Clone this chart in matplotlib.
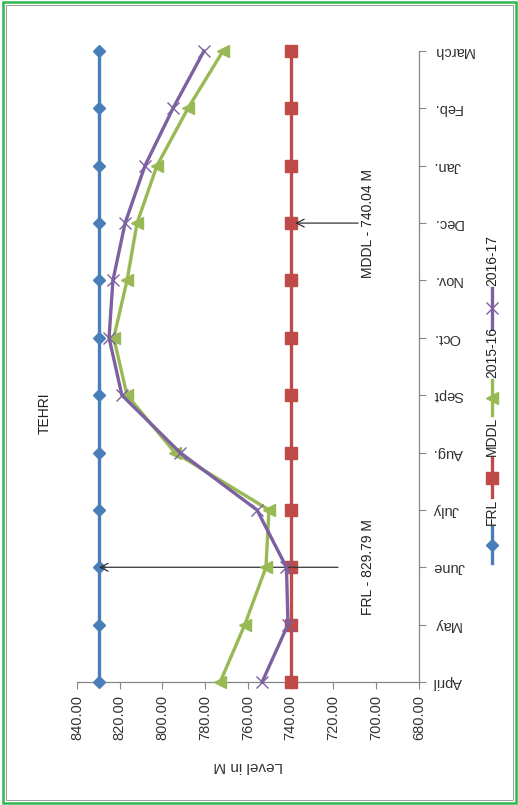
import matplotlib
matplotlib.use("Agg")
import matplotlib.pyplot as plt
from matplotlib.patches import Rectangle
from matplotlib.lines import Line2D
from matplotlib import font_manager

months = ["April", "May", "June", "July", "Aug.", "Sept", "Oct.", "Nov.", "Dec.", "Jan.", "Feb.", "March"]
frl = [829.79] * 12
mddl = [740.04] * 12
y2015_16 = [773.0, 761.5, 751.6, 750.2, 794.2, 816.6, 822.8, 816.6, 811.9, 802.6, 788.1, 771.7]
y2016_17 = [753.4, 741.3, 742.0, 755.8, 791.8, 819.0, 825.0, 823.2, 817.5, 808.2, 795.1, 780.6]
level_ticks = [840, 820, 800, 780, 760, 740, 720, 700, 680]

installed = {f.name for f in font_manager.fontManager.ttflist}
narrow = "Liberation Sans Narrow" if "Liberation Sans Narrow" in installed else "Liberation Sans"
plt.rcParams['font.family'] = ['Liberation Sans', 'DejaVu Sans']

W, H = 518, 805
fig = plt.figure(figsize=(W / 100, H / 100), dpi=100)

# overlay in pixel coords for frame, title and legend
ov = fig.add_axes([0, 0, 1, 1], zorder=-1)
ov.axis('off')
ov.add_patch(Rectangle((2.5, 2.5), W - 5, H - 5, fill=False, edgecolor='#2DB84D', lw=1.8))
ov.add_patch(Rectangle((5.5, 5.5), W - 11, H - 11, fill=False, edgecolor='#A0A0A0', lw=0.7))

L, R, B, T = 77, 419, 682, 51
ax = fig.add_axes([L / W, 1 - B / H, (R - L) / W, (B - T) / H])
idx = list(range(len(months)))

c_frl, c_mddl, c_g, c_p = '#4A7EBB', '#BE4B48', '#98B954', '#7D60A0'
ax.plot(frl, idx, color=c_frl, lw=2.4, marker='D', ms=6, clip_on=False, zorder=3)
ax.plot(mddl, idx, color=c_mddl, lw=2.4, marker='s', ms=8, clip_on=False, zorder=3)
ax.plot(y2015_16, idx, color=c_g, lw=2.4, marker='<', ms=8, clip_on=False, zorder=4)
ax.plot(y2016_17, idx, color=c_p, lw=2.4, marker='x', ms=9, mew=1.0, clip_on=False, zorder=5)
ax.set_xlim(840, 680)
ax.set_ylim(0, len(months) - 1)

for s in ['top', 'left']:
    ax.spines[s].set_visible(False)
for s in ['bottom', 'right']:
    ax.spines[s].set_color('#868686')
    ax.spines[s].set_linewidth(0.9)

ax.set_xticks(level_ticks)
ax.set_xticklabels([f"{v:.2f}" for v in level_ticks], rotation=90, fontsize=10.5, color='#333333')
ax.tick_params(axis='x', direction='out', length=5, color='#868686', pad=4)
ax.yaxis.tick_right()
ax.set_yticks(idx)
ax.set_yticklabels(months, rotation=180, fontsize=10.5, color='#333333', ha='left', va='center')
ax.tick_params(axis='y', direction='out', length=5, color='#868686', pad=5)

ax.set_xlabel("Level in M", rotation=180, fontsize=11, color='#333333', labelpad=14)

# annotations
ax.annotate("", xy=(829.79, 2), xytext=(717.9, 2),
            arrowprops=dict(arrowstyle='->', color='#333333', lw=0.9, mutation_scale=14, shrinkA=0, shrinkB=0))
ax.text(703.9, 2, "FRL - 829.79 M", rotation=90, ha='center', va='center', fontsize=10,
        family=[narrow, 'DejaVu Sans'], color='#222222')
ax.annotate("", xy=(738.0, 8), xytext=(708.5, 8),
            arrowprops=dict(arrowstyle='->', color='#333333', lw=0.9, mutation_scale=14, shrinkA=0, shrinkB=0))
ax.text(703.9, 8, "MDDL - 740.04 M", rotation=90, ha='center', va='center', fontsize=10,
        family=[narrow, 'DejaVu Sans'], color='#222222')

# title
ov.text(45, 413, "TEHRI", rotation=90, ha='center', va='center', fontsize=10,
        family=[narrow, 'DejaVu Sans'], color='#222222')

# legend drawn vertically (line top y, line bottom y in pixels)
leg = [("FRL", c_frl, 'D', 6, 527, 563), ("MDDL", c_mddl, 's', 8, 458, 497),
       ("2015-16", c_g, '<', 8, 380, 415), ("2016-17", c_p, 'x', 9, 288, 328)]
lx = 492
for name, col, mk, ms, ytop, ybot in leg:
    ov.add_line(Line2D([lx, lx], [ybot, ytop], color=col, lw=2.4))
    ov.add_line(Line2D([lx], [(ytop + ybot) / 2], marker=mk, color=col, ms=ms, mew=1.0, linestyle='none'))
    ov.text(lx, ytop - 2, name, rotation=90, rotation_mode='anchor', ha='left', va='center',
            fontsize=10, family=[narrow, 'DejaVu Sans'], color='#222222')

ov.set_xlim(0, W)
ov.set_ylim(H, 0)

fig.savefig("out.png", dpi=100)
